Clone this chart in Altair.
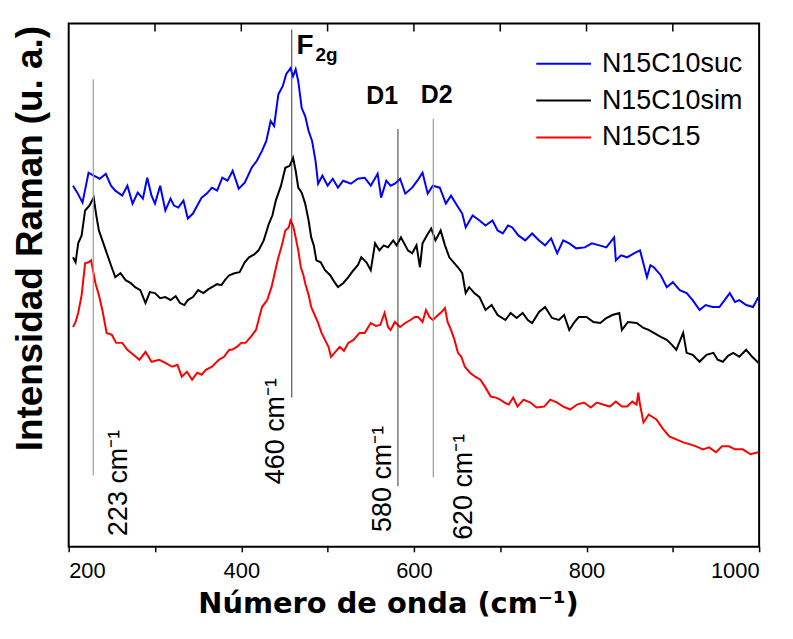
import altair as alt
import pandas as pd

# ---------------- data ----------------
suc_x = [205,210,216,223,229,236,243,249,254,262,268,274,280,286,291,296,300,306,312,318,322,327,333,338,344,349,354,360,366,372,378,384,390,397,404,412,418,424,429,434,438,443,448,452,457,460,463,466,470,474,478,482,486,489,494,500,506,512,518,527,535,543,550,558,562,568,573,578,584,590,598,604,610,616,622,630,637,643,650,656,660,668,676,683,691,697,703,709,714,721,729,737,745,752,759,766,773,780,788,798,806,815,823,832,834,840,847,855,862,870,874,878,886,893,900,908,916,923,931,938,946,954,960,966,972,977,985,993,999]
suc_y = [363,356,346,376,373,370,375,363,358,353,363,345,356,350,371,353,345,363,338,350,343,341,348,330,335,343,351,355,361,358,371,368,378,360,366,381,388,398,408,428,423,455,463,475,481,473,480,468,441,433,418,408,388,365,373,363,370,361,368,365,370,371,363,375,351,368,363,365,370,355,361,368,376,355,363,361,345,353,343,335,321,333,328,323,328,318,315,323,321,313,308,315,308,303,310,295,308,305,300,301,305,303,301,311,288,293,291,295,298,271,283,281,273,261,266,258,255,248,238,243,241,241,248,255,246,248,243,241,251]

sim_x = [205,208,211,215,219,224,229,232,235,239,243,249,254,260,266,272,277,283,289,294,300,306,312,318,324,329,334,338,344,350,356,362,366,372,377,381,386,392,398,404,409,415,420,426,432,436,440,446,451,456,460,463,466,470,474,478,481,484,487,492,497,503,508,512,518,524,530,535,539,545,550,555,560,565,570,576,580,585,590,593,598,603,607,610,615,620,625,631,636,641,646,651,656,660,664,670,676,683,690,697,706,712,719,726,732,737,745,752,760,768,774,780,786,791,800,808,816,823,830,838,841,848,858,866,872,878,886,893,899,904,912,916,923,931,939,947,952,958,964,970,977,985,992,999]
sim_y = [291,286,305,313,338,343,351,333,318,308,298,283,271,275,268,265,261,258,245,256,255,250,251,248,252,245,243,248,251,258,255,259,261,264,263,268,273,275,276,286,291,294,298,308,325,333,348,363,381,383,391,378,361,356,345,328,311,303,288,286,278,273,266,261,265,271,278,283,291,286,278,305,298,303,301,308,303,311,303,298,295,303,281,305,313,320,308,318,303,291,286,281,275,255,261,255,251,238,243,233,228,235,230,235,228,225,236,241,230,228,233,218,226,231,231,226,225,230,233,235,218,226,225,220,218,215,211,208,203,198,215,195,193,186,193,195,188,186,192,195,191,198,191,185]

c15_x = [205,208,211,215,219,223,226,231,235,239,244,250,255,262,268,275,282,289,296,305,312,320,326,331,337,343,349,354,359,366,374,380,386,389,395,400,405,411,417,424,430,435,440,443,447,451,455,457,460,463,466,469,472,474,478,481,485,489,493,497,501,504,509,514,519,524,530,537,543,550,556,561,566,570,573,578,584,590,596,601,605,610,614,618,622,628,632,636,639,643,647,651,655,659,665,671,677,683,689,695,700,705,710,715,720,727,735,742,751,758,766,773,781,789,797,805,812,819,827,834,841,847,853,858,860,862,866,872,881,889,896,904,912,920,927,935,942,950,957,965,972,981,990,999]
c15_y = [221,226,235,253,285,286,288,265,253,238,215,213,205,205,198,193,188,196,186,188,185,181,183,171,176,168,175,173,178,181,188,191,198,198,201,205,205,211,218,241,248,261,280,291,303,318,321,328,323,311,298,281,273,265,253,241,233,225,215,208,201,191,196,201,197,205,208,215,215,225,222,223,235,221,218,226,221,225,228,231,231,226,238,231,228,233,236,240,226,218,208,195,191,181,175,171,168,160,151,150,148,145,143,150,141,148,145,140,141,148,145,141,138,143,145,140,145,143,141,146,141,141,146,143,155,143,125,133,128,118,111,108,105,103,101,98,100,95,101,101,98,98,93,95]

series_names = ["N15C10suc", "N15C10sim", "N15C15"]
series_colors = ["#0000FF", "#000000", "#FF0000"]

x_ticks = [200, 300, 400, 500, 600, 700, 800, 900, 1000]
top_ticks = [300, 400, 500, 600, 700, 800, 900]

# reference lines: position (cm-1), start and end intensity
gray_line_x = [228.5, 622.5]
gray_line_y1 = [72, 70]
gray_line_y2 = [470, 430]
dark_line_x = [458.5, 581.5]
dark_line_y1 = [150, 61]
dark_line_y2 = [520, 420]

# rotated peak labels
peak_text = ["223 cm⁻¹", "460 cm⁻¹", "580 cm⁻¹", "620 cm⁻¹"]
peak_x = [268, 449, 573.5, 667]
peak_y = [11, 63, 15, 7]

band_text = ["D1", "D2"]
band_x = [544.7, 608]
band_y = [445, 446]

f_text = ["F"]
f_x = [464]
f_y = [495]
sub_text = ["2g"]
sub_x = [486]
sub_y = [488]

# ---------------- build tables ----------------
rows = []
for name, xs, ys in [(series_names[0], suc_x, suc_y), (series_names[1], sim_x, sim_y), (series_names[2], c15_x, c15_y)]:
    for a, b in zip(xs, ys):
        rows.append({"x": a, "y": b, "s": name})
spec = pd.DataFrame(rows)

xscale = alt.Scale(domain=[200, 1000], nice=False, zero=False)
yscale = alt.Scale(domain=[0, 526], nice=False, zero=False)

x_axis = alt.Axis(
    values=x_ticks, format="d", labelExpr="datum.value % 200 == 0 ? datum.label : ''",
    labelFont="Liberation Sans", labelFontSize=22, labelColor="black", labelPadding=9,
    tickSize=5, tickWidth=1.5, tickColor="black", domain=False, grid=False,
    title="Número de onda (cm⁻¹)", titleFont="DejaVu Sans", titleFontSize=29,
    titleFontWeight="bold", titleColor="black", titleX=321, titleY=66,
    titleAlign="center", titleBaseline="alphabetic",
)
y_axis = alt.Axis(
    labels=False, ticks=False, domain=False, grid=False,
    title="Intensidad Raman  (u. a.)", titleFont="Liberation Sans", titleFontSize=37,
    titleFontWeight="bold", titleColor="black", titleAngle=270, titleX=-27, titleY=2,
    titleAlign="right", titleBaseline="alphabetic",
)


def X(field):
    return alt.X(field, scale=xscale, axis=x_axis)


def Y(field):
    return alt.Y(field, scale=yscale, axis=y_axis)


lines = alt.Chart(spec).mark_line(strokeWidth=2, clip=True).encode(
    x=X("x:Q"),
    y=Y("y:Q"),
    color=alt.Color(
        "s:N",
        scale=alt.Scale(domain=series_names, range=series_colors),
        sort=series_names,
        legend=alt.Legend(
            orient="none", legendX=484, legendY=27, title=None, padding=0,
            symbolType="M-2.5,0H2.5", symbolSize=484, symbolStrokeWidth=2,
            labelFont="Liberation Sans", labelFontSize=27, labelColor="black",
            labelOffset=25, rowPadding=9,
        ),
    ),
)

gray_df = pd.DataFrame({"x": gray_line_x, "y1": gray_line_y1, "y2": gray_line_y2})
dark_df = pd.DataFrame({"x": dark_line_x, "y1": dark_line_y1, "y2": dark_line_y2})

gray_rules = alt.Chart(gray_df).mark_rule(color="#9a9a9a", strokeWidth=1.2).encode(
    x=X("x:Q"), y=Y("y1:Q"), y2="y2:Q")
dark_rules = alt.Chart(dark_df).mark_rule(color="#333333", strokeWidth=1).encode(
    x=X("x:Q"), y=Y("y1:Q"), y2="y2:Q")

top_df = pd.DataFrame({"x": top_ticks})
top_tick_marks = alt.Chart(top_df).mark_rule(color="black", strokeWidth=1.5).encode(
    x=X("x:Q"), y=alt.value(0), y2=alt.value(8))

peak_df = pd.DataFrame({"x": peak_x, "y": peak_y, "t": peak_text})
peak_labels = alt.Chart(peak_df).mark_text(
    angle=270, align="left", baseline="alphabetic", font="Liberation Sans",
    fontSize=27, color="black").encode(x=X("x:Q"), y=Y("y:Q"), text="t:N")

band_df = pd.DataFrame({"x": band_x, "y": band_y, "t": band_text})
band_labels = alt.Chart(band_df).mark_text(
    align="left", baseline="alphabetic", font="Liberation Sans", fontWeight="bold",
    fontSize=25, color="black").encode(x=X("x:Q"), y=Y("y:Q"), text="t:N")

f_df = pd.DataFrame({"x": f_x, "y": f_y, "t": f_text})
f_label = alt.Chart(f_df).mark_text(
    align="left", baseline="alphabetic", font="Liberation Sans", fontWeight="bold",
    fontSize=28, color="black").encode(x=X("x:Q"), y=Y("y:Q"), text="t:N")

sub_df = pd.DataFrame({"x": sub_x, "y": sub_y, "t": sub_text})
sub_label = alt.Chart(sub_df).mark_text(
    align="left", baseline="alphabetic", font="Liberation Sans", fontWeight="bold",
    fontSize=19, color="black").encode(x=X("x:Q"), y=Y("y:Q"), text="t:N")

chart = alt.layer(
    lines, gray_rules, dark_rules, top_tick_marks, peak_labels, band_labels, f_label, sub_label
).properties(
    width=694, height=526,
    background="white",
    autosize=alt.AutoSizeParams(type="none"),
    padding={"left": 61, "top": 14, "right": 26, "bottom": 80},
).configure_view(
    stroke="black", strokeWidth=2
)

chart.save("out.html", embed_options={"renderer": "svg", "actions": False})
